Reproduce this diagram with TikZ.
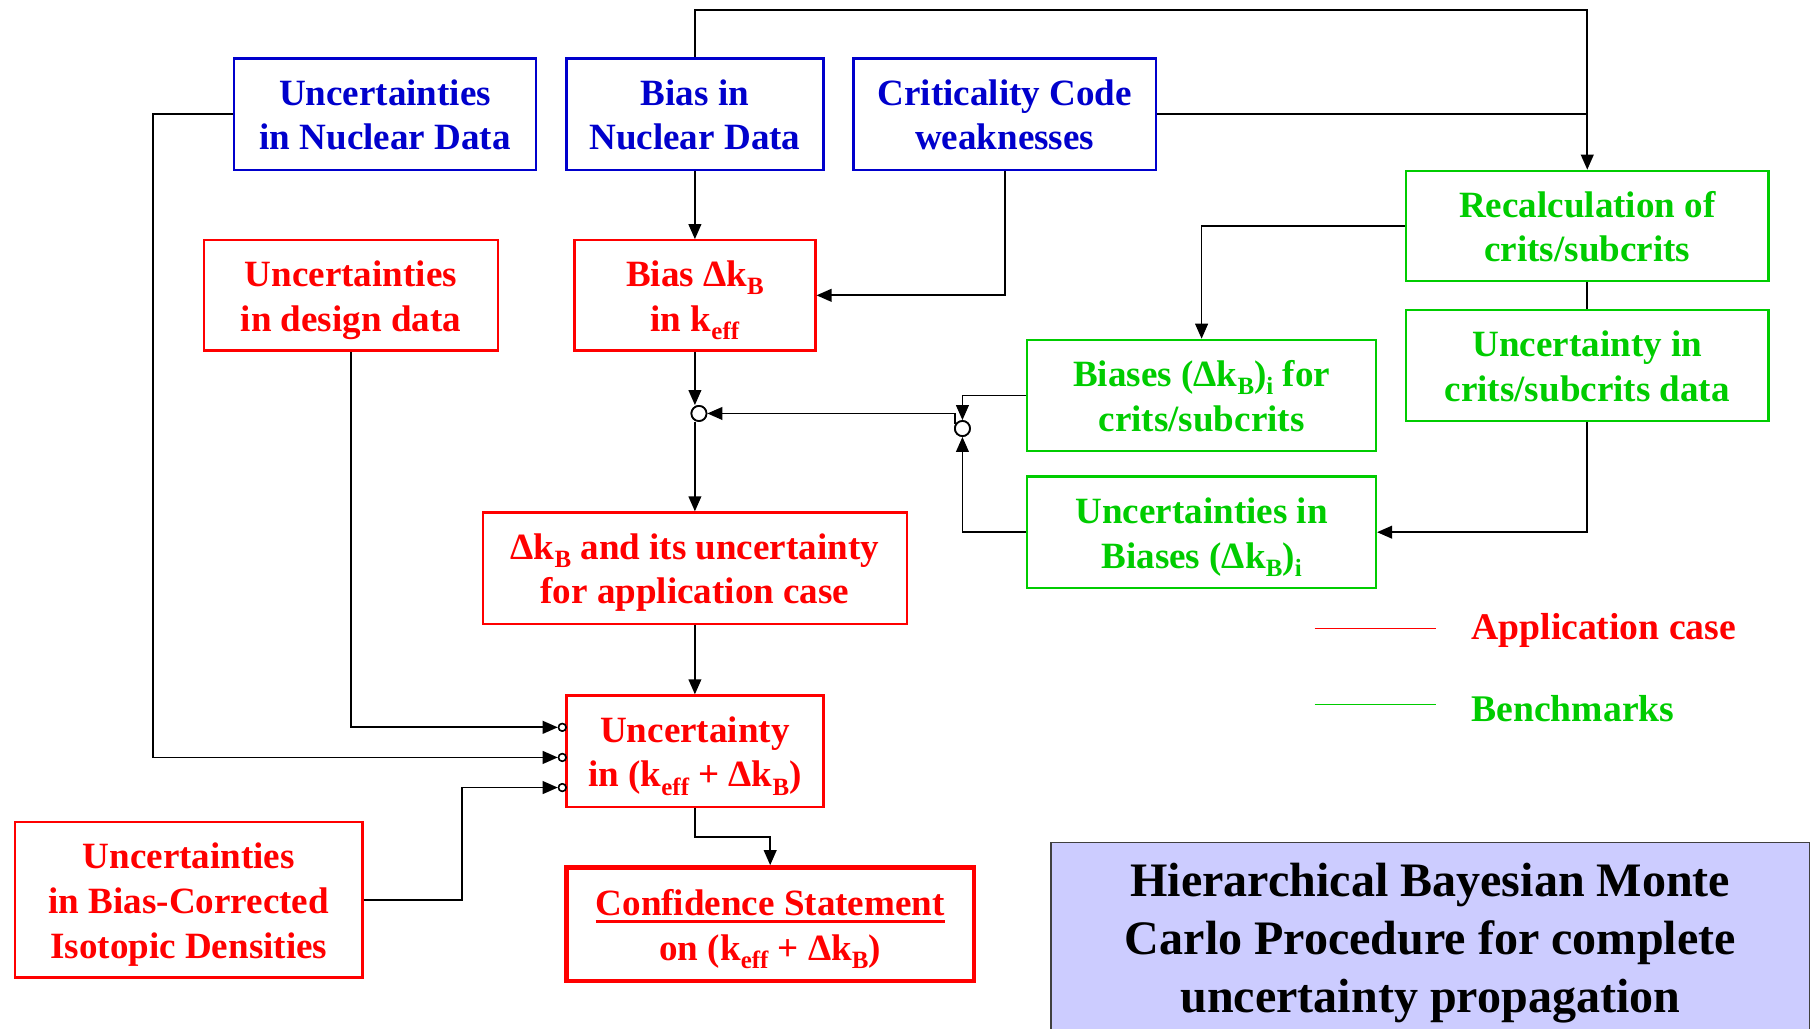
\documentclass[tikz,border=0pt]{standalone}
\usepackage{fontspec}
\setmainfont{Liberation Serif}
\usetikzlibrary{arrows.meta}
\definecolor{bblue}{HTML}{0000CC}
\definecolor{rred}{HTML}{FF0000}
\definecolor{ggreen}{HTML}{00CC00}
\definecolor{lav}{HTML}{CCCCFF}
\newcommand\lsub[1]{\raisebox{-0.22em}{\fontsize{21.5}{21.5}\selectfont #1}}
\newcommand\st{\rule[-7.5pt]{0pt}{38.5pt}}
\newcommand\uln[1]{\setbox0\hbox{#1}\rlap{\rule[-6.5pt]{\wd0}{3pt}}\box0}
\begin{document}
\begin{tikzpicture}[x=1pt,y=-1pt,
 box/.style={draw, line width=2pt, inner sep=0pt, align=center, font=\fontsize{32}{38.5}\selectfont\bfseries},
 bluebox/.style={box, draw=bblue, text=bblue},
 redbox/.style={box, draw=rred, text=rred},
 greenbox/.style={box, draw=ggreen, text=ggreen},
 conn/.style={line width=1.5pt, black},
 arr/.style={conn, -{Triangle[length=13pt,width=11pt]}},
 jct/.style={circle, draw, line width=1.5pt, fill=white, inner sep=0pt, minimum size=13pt},
 dot/.style={circle, draw, line width=1.3pt, fill=white, inner sep=0pt, minimum size=6.5pt},
 legtext/.style={anchor=west, font=\fontsize{32.5}{39}\selectfont\bfseries},
]
\useasboundingbox (0,0) rectangle (1568,888);

% blue boxes
\node[bluebox, minimum width=261pt, minimum height=96pt] (und) at (332.5,98.5) {\st Uncertainties\\in Nuclear Data\st};
\node[bluebox, minimum width=222pt, minimum height=96pt] (bnd) at (600,98.5) {\st Bias in\\Nuclear Data\st};
\node[bluebox, minimum width=261pt, minimum height=96pt] (ccw) at (867.5,98.5) {\st Criticality Code\\weaknesses\st};

% red boxes
\node[redbox, minimum width=254pt, minimum height=95pt] (udd) at (303,255) {\st Uncertainties\\in design data\st};
\node[redbox, minimum width=208pt, minimum height=95pt] (bias) at (600,255) {\st Bias Δk\lsub{B}\\in k\lsub{eff}\st};
\node[redbox, minimum width=366pt, minimum height=96pt] (dkb) at (600,490.5) {\st Δk\lsub{B} and its uncertainty\\for application case\st};
\node[redbox, minimum width=222pt, minimum height=96pt] (unc) at (600,648.5) {\st Uncertainty\\in (k\lsub{eff} + Δk\lsub{B})\st};
\node[redbox, minimum width=300pt, minimum height=134pt] (ubc) at (163,777) {\st Uncertainties\\in Bias-Corrected\\Isotopic Densities\st};
\node[redbox, line width=4pt, minimum width=352pt, minimum height=98pt] (conf) at (665,798) {\st\uln{Confidence Statement}\\on (k\lsub{eff} + Δk\lsub{B})\st};

% green boxes
\node[greenbox, minimum width=313pt, minimum height=95pt] (recalc) at (1370.5,195) {\st Recalculation of\\crits/subcrits\st};
\node[greenbox, minimum width=313pt, minimum height=96pt] (ucrit) at (1370.5,315.5) {\st Uncertainty in\\crits/subcrits data\st};
\node[greenbox, minimum width=301pt, minimum height=96pt] (biases) at (1037.5,341.5) {\st Biases (Δk\lsub{B})\lsub{i} for\\crits/subcrits\st};
\node[greenbox, minimum width=301pt, minimum height=96pt] (ubias) at (1037.5,459.5) {\st Uncertainties in\\Biases (Δk\lsub{B})\lsub{i}\st};

% junctions
\node[jct] (j1) at (603.5,357) {};
\node[jct] (j2) at (831,370) {};
\node[dot] (d1) at (485.5,628) {};
\node[dot] (d2) at (485.5,654) {};
\node[dot] (d3) at (485.5,680) {};

% connectors
\draw[arr] (bnd.north) -- ++(0,-41) -| (recalc.north);
\draw[conn] (ccw.east) -- (recalc.north |- ccw.east);
\draw[arr] (und.west) -- ++(-69,0) |- (d2.west);
\draw[arr] (bnd.south) -- (bias.north);
\draw[arr] (ccw.south) |- (bias.east);
\draw[arr] (udd.south) |- (d1.west);
\draw[arr] (bias.south) -- (bias.south |- j1.north);
\draw[arr] (bias.south |- j1.south) -- (dkb.north);
\draw[arr] (biases.west) -- (j2.north |- biases.west) -- (j2.north);
\draw[arr] (ubias.west) -- (j2.south |- ubias.west) -- (j2.south);
\draw[arr] (j2.150) |- (j1.east);
\draw[arr] (dkb.south) -- (unc.north);
\draw[arr] (ubc.east) -- ++(85,0) |- (d3.west);
\draw[arr] (unc.south) -- ++(0,25) -| (conf.north);
\draw[conn] (recalc.south) -- (ucrit.north);
\draw[arr] (ucrit.south) |- (ubias.east);
\draw[arr] (recalc.west) -| (biases.north);
\node[jct] at (j1) {};
\node[jct] at (j2) {};
\node[dot] at (d1) {};
\node[dot] at (d2) {};
\node[dot] at (d3) {};

% legend
\coordinate (la1) at (1135,543);
\coordinate (la2) at (1240,543);
\coordinate (lb1) at (1135,608);
\coordinate (lb2) at (1240,608);
\draw[rred, line width=1pt] (la1) -- (la2);
\draw[ggreen, line width=1pt] (lb1) -- (lb2);
\node[legtext, text=rred] (lat) at (1267,544) {Application case};
\node[legtext, text=ggreen] (lbt) at (1267,612) {Benchmarks};

% title
\node[draw=black!75, line width=1pt, fill=lav, minimum width=655pt, minimum height=174pt, inner sep=0pt, align=center, font=\fontsize{41.5}{50}\selectfont\bfseries, anchor=north west] (title) at (907,727) {Hierarchical Bayesian Monte\\Carlo Procedure for complete\\uncertainty propagation};
\end{tikzpicture}
\end{document}
